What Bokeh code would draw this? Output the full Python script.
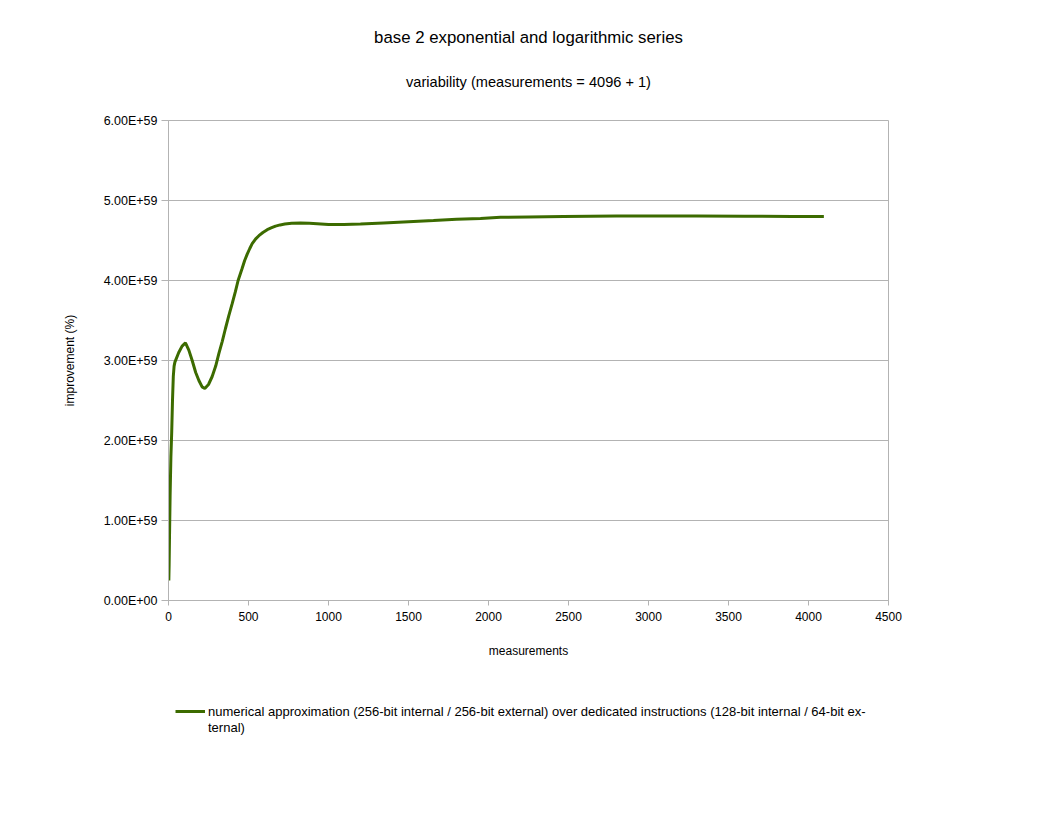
from bokeh.plotting import figure
from bokeh.layouts import column
from bokeh.models import (FixedTicker, CustomJSTickFormatter, Range1d, Label,
                          Legend, LegendItem)
from bokeh.embed import file_html
from bokeh.resources import INLINE

# ---- data ----
measurements = [1, 2, 4, 6, 10, 15, 20, 25, 30, 35, 40, 64, 85, 106, 127, 148,
                170, 190, 210, 227, 250, 273, 295, 315, 336, 356, 377, 398,
                418, 435, 460, 476, 492, 508, 523, 545, 565, 590, 617, 645,
                669, 698, 727, 770, 825, 880, 929, 1000, 1096, 1200, 1344,
                1500, 1656, 1800, 1950, 2075, 2250, 2469, 2800, 3100, 3302,
                3600, 3900, 4096]
improvement = [0.48e59, 0.25e59, 0.45e59, 0.75e59, 1.30e59, 1.80e59, 2.10e59,
               2.50e59, 2.80e59, 2.93e59, 2.98e59, 3.10e59, 3.18e59, 3.22e59,
               3.13e59, 3.00e59, 2.85e59, 2.75e59, 2.67e59, 2.65e59, 2.70e59,
               2.80e59, 2.93e59, 3.09e59, 3.24e59, 3.40e59, 3.56e59, 3.71e59,
               3.86e59, 4.00e59, 4.15e59, 4.25e59, 4.33e59, 4.40e59, 4.46e59,
               4.52e59, 4.56e59, 4.60e59, 4.635e59, 4.66e59, 4.68e59, 4.695e59,
               4.705e59, 4.715e59, 4.72e59, 4.715e59, 4.71e59, 4.70e59, 4.70e59,
               4.705e59, 4.72e59, 4.735e59, 4.75e59, 4.765e59, 4.775e59,
               4.79e59, 4.795e59, 4.80e59, 4.805e59, 4.805e59, 4.805e59,
               4.803e59, 4.80e59, 4.80e59]
x_ticks = [0, 500, 1000, 1500, 2000, 2500, 3000, 3500, 4000, 4500]
y_ticks = [0, 1e59, 2e59, 3e59, 4e59, 5e59, 6e59]

title_text = "base 2 exponential and logarithmic series"
subtitle_text = "variability (measurements = 4096 + 1)"
x_label = "measurements"
y_label = "improvement (%)"
series_label_lines = ["numerical approximation (256-bit internal / 256-bit external) over "
                      "dedicated instructions (128-bit internal / 64-bit ex-",
                      "ternal)"]

FONT = "Liberation Sans"
GRID = "#b3b3b3"
LINE = "#3c6b00"

# ---- title strip ----
p0 = figure(width=1040, height=112, output_backend="svg", toolbar_location=None,
            x_range=Range1d(0, 1), y_range=Range1d(112, 0),
            x_axis_location=None, y_axis_location=None, min_border=0)
p0.grid.visible = False
p0.outline_line_color = None
p0.add_layout(Label(x=0.5, y=36.7, text=title_text, text_align="center",
                    text_baseline="middle", text_font=FONT,
                    text_font_size="16.8px", text_color="black"))
p0.add_layout(Label(x=0.5, y=81.7, text=subtitle_text, text_align="center",
                    text_baseline="middle", text_font=FONT,
                    text_font_size="14.6px", text_color="black"))

# ---- main chart ----
p = figure(width=1040, height=568, output_backend="svg", toolbar_location=None,
           x_range=Range1d(0, 4500), y_range=Range1d(0, 6e59),
           min_border_left=168, min_border_right=152,
           min_border_bottom=80, min_border_top=8, title=None)

r = p.line(measurements, improvement, line_color=LINE, line_width=3)

p.xaxis.ticker = FixedTicker(ticks=x_ticks)
p.yaxis.ticker = FixedTicker(ticks=y_ticks)
p.yaxis.formatter = CustomJSTickFormatter(code="""
    const s = tick.toExponential(2).toUpperCase();
    const parts = s.split("E");
    const sign = parts[1][0];
    let d = parts[1].slice(1);
    if (d.length < 2) { d = "0" + d; }
    return parts[0] + "E" + sign + d;
""")

for ax in (p.xaxis[0], p.yaxis[0]):
    ax.axis_line_color = GRID
    ax.major_tick_line_color = GRID
    ax.major_tick_in = 0
    ax.minor_tick_line_color = None
    ax.major_label_text_font = FONT
    ax.major_label_text_font_size = "12px"
    ax.major_label_text_color = "black"
    ax.axis_label_text_font = FONT
    ax.axis_label_text_font_size = "12px"
    ax.axis_label_text_font_style = "normal"
    ax.axis_label_text_color = "black"

p.yaxis.major_label_text_font_size = "12.5px"
p.xaxis.major_tick_out = 5
p.yaxis.major_tick_out = 7
p.xaxis.major_label_standoff = 6
p.yaxis.major_label_standoff = 4
p.xaxis.axis_label = x_label
p.yaxis.axis_label = y_label
p.xaxis.axis_label_standoff = 20
p.yaxis.axis_label_standoff = 24

p.xgrid.visible = False
p.ygrid.grid_line_color = GRID
p.ygrid.grid_line_width = 1
p.outline_line_color = GRID
p.outline_line_width = 1
p.background_fill_color = "white"
p.border_fill_color = "white"

# ---- legend strip below the chart ----
p2 = figure(width=1040, height=120, output_backend="svg", toolbar_location=None,
            x_range=Range1d(0, 1), y_range=Range1d(0, 1),
            x_axis_location=None, y_axis_location=None, min_border=0)
p2.grid.visible = False
p2.outline_line_color = None
r2 = p2.line(measurements, improvement, line_color=LINE, line_width=3)
r2.visible = False
r3 = p2.line(measurements, improvement, line_color=LINE, line_alpha=0)
r3.visible = False

legend = Legend(items=[LegendItem(label=series_label_lines[0], renderers=[r2]),
                       LegendItem(label=series_label_lines[1], renderers=[r3])],
                location=(7, 65), orientation="vertical",
                border_line_color=None, background_fill_alpha=0,
                label_text_font=FONT, label_text_font_size="13px",
                label_text_color="black", label_height=16,
                glyph_width=30, glyph_height=16, click_policy="none",
                label_standoff=3, padding=0, margin=0, spacing=0)
p2.add_layout(legend, "center")

open("out.html", "w").write(file_html(column(p0, p, p2, spacing=0), INLINE))
